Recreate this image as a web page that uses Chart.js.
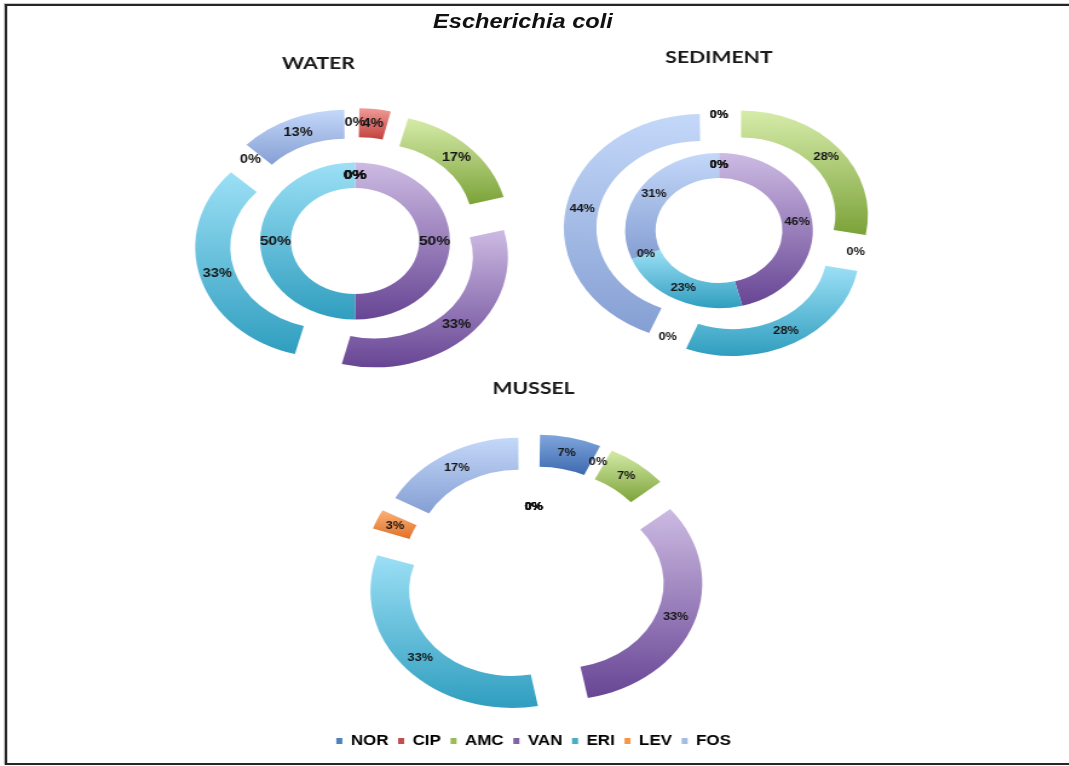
<!DOCTYPE html>
<html>
<head>
<meta charset="utf-8">
<title>Escherichia coli</title>
<script src="https://cdn.jsdelivr.net/npm/chart.js@4.4.1/dist/chart.umd.min.js"></script>
<style>
  html, body { margin: 0; padding: 0; background: #fff; overflow: hidden; }
  /* the whole figure is laid out narrow and stretched sideways */
  #page { position: absolute; left: 0; top: 0; width: 884px; height: 766px; transform: scaleX(1.21); transform-origin: 0 0; }
  #frame { position: absolute; left: 4.1px; top: 3.7px; width: 900px; height: 757.2px; border: 2.2px solid #262626; border-right: none; box-shadow: -1px -1px 0 #c8c8c8; }
  #mainTitle { position: absolute; left: 282.2px; top: 10.2px; width: 300px; line-height: 24px; text-align: center;
               font: italic bold 19.5px "Liberation Sans", Arial, sans-serif; color: #111; }
  .box { position: absolute; }
</style>
</head>
<body>
<div id="page">
  <div id="frame"></div>
  <div id="mainTitle">Escherichia coli</div>
  <div class="box" style="left:130px; top:40px; width:330px; height:345px;"><canvas id="water"></canvas></div>
  <div class="box" style="left:440px; top:30px; width:308.4px; height:355px;"><canvas id="sediment"></canvas></div>
  <div class="box" style="left:240px; top:365px; width:402px; height:393px;"><canvas id="mussel"></canvas></div>
</div>
<script>
const ANTIBIOTICS = ['NOR', 'CIP', 'AMC', 'VAN', 'ERI', 'LEV', 'FOS'];

// % of isolates per antibiotic: outer ring is exploded, inner ring sits inside it
const waterOuter = [0, 4, 17, 33, 33, 0, 13];
const waterInner = [0, 0, 0, 50, 50, 0, 0];
const sedimentOuter = [0, 0, 28, 0, 28, 0, 44];
const sedimentInner = [0, 0, 0, 46, 23, 0, 31];
const musselOuter = [7, 0, 7, 33, 33, 3, 17];
const musselInner = [0, 0, 0, 0, 0, 0, 0];

const LEGEND_COLORS = ['#4F81BD', '#C0504D', '#9BBB59', '#8064A2', '#4BACC6', '#F79646', '#A3BCE6'];
const TOP_COLORS    = ['#80A6DD', '#F09C99', '#D6ECAA', '#CDBBE3', '#9CE0F6', '#FBB57E', '#C4D8F9'];
const BOTTOM_COLORS = ['#3C69AD', '#C0403C', '#7BA238', '#674594', '#309EBF', '#E06E24', '#859FD3'];

Chart.defaults.font.family = 'Lato';

function arcSpan(data, i) {
  const total = data.reduce((s, v) => s + v, 0);
  if (!total) return { start: -Math.PI / 2, size: 0 };
  const before = data.slice(0, i).reduce((s, v) => s + v, 0);
  return { start: -Math.PI / 2 + 2 * Math.PI * before / total, size: 2 * Math.PI * data[i] / total };
}

// Chart.js moves an arc out by offset/4 and also grows its radius by offset/4 * fix,
// so pick the offset that pushes every slice out by the same distance
function explodeOffset(ctx) {
  const shift = ctx.dataset.explode || 0;
  if (!shift) return 0;
  const { size } = arcSpan(ctx.dataset.data, ctx.dataIndex);
  const fix = 1 - Math.sin(Math.min(Math.PI, size));
  return 4 * shift / (1 + fix);
}

// light-to-dark vertical gradient over each slice
function arcFill(ctx) {
  const i = ctx.dataIndex;
  const chart = ctx.chart;
  const area = chart.chartArea;
  const ctrl = chart.getDatasetMeta(ctx.datasetIndex).controller;
  if (!area || !ctrl || !ctrl.outerRadius) return LEGEND_COLORS[i];
  const { start, size } = arcSpan(ctx.dataset.data, i);
  const grow = (explodeOffset(ctx) / 4) * (1 - Math.sin(Math.min(Math.PI, size)));
  const cy = (area.top + area.bottom) / 2;
  let top = Infinity, bottom = -Infinity;
  for (let k = 0; k <= 24; k++) {
    const a = start + size * k / 24;
    for (const r of [ctrl.innerRadius + grow, ctrl.outerRadius + grow]) {
      const y = cy + Math.sin(a) * r;
      top = Math.min(top, y);
      bottom = Math.max(bottom, y);
    }
  }
  if (!(bottom > top)) return LEGEND_COLORS[i];
  const g = chart.ctx.createLinearGradient(0, top, 0, bottom);
  g.addColorStop(0, TOP_COLORS[i]);
  g.addColorStop(1, BOTTOM_COLORS[i]);
  return g;
}

// percentage written in the middle of each slice (zero slices too)
const percentLabels = {
  id: 'percentLabels',
  afterDatasetsDraw(chart) {
    const c = chart.ctx;
    c.save();
    c.textAlign = 'center';
    c.textBaseline = 'middle';
    c.fillStyle = '#151515';
    chart.data.datasets.forEach((ds, di) => {
      c.font = 'bold ' + ds.labelSize + 'px "Liberation Sans", Arial, sans-serif';
      chart.getDatasetMeta(di).data.forEach((arc, i) => {
        const p = arc.getProps(['x', 'y', 'startAngle', 'endAngle', 'innerRadius', 'outerRadius']);
        const mid = (p.startAngle + p.endAngle) / 2;
        const r = (p.innerRadius + p.outerRadius) / 2 + (ds.explode || 0);
        c.fillText(ds.data[i] + '%', p.x + Math.cos(mid) * r, p.y + Math.sin(mid) * r);
      });
    });
    c.restore();
  }
};

function makeChart(id, cfg) {
  return new Chart(document.getElementById(id), {
    type: 'doughnut',
    data: {
      labels: ANTIBIOTICS,
      datasets: [
        { data: cfg.outer, explode: cfg.explode, weight: cfg.outerWeight, labelSize: cfg.outerLabel,
          backgroundColor: arcFill, offset: explodeOffset, borderWidth: 0, clip: false },
        { data: cfg.inner, explode: 0, weight: cfg.innerWeight, labelSize: cfg.innerLabel,
          backgroundColor: arcFill, offset: 0, borderWidth: 0, clip: false }
      ]
    },
    options: {
      responsive: true,
      maintainAspectRatio: false,
      animation: false,
      events: [],
      radius: cfg.radius,
      cutout: cfg.cutout,
      layout: { padding: cfg.padding },
      plugins: {
        title: {
          display: true,
          text: cfg.title,
          align: cfg.titleAlign,
          color: '#1a1a1a',
          font: { family: 'Lato', size: 17.5, weight: 'bold' },
          padding: cfg.titlePadding
        },
        legend: cfg.legend || { display: false },
        tooltip: { enabled: false }
      }
    },
    plugins: [percentLabels]
  });
}

makeChart('water', {
  title: 'WATER', titleAlign: 'start', titlePadding: { top: 13.2, bottom: 22.8 },
  padding: { left: 103, right: 106.2 },
  outer: waterOuter, inner: waterInner,
  radius: 107.5, cutout: '49.3%', outerWeight: 29, innerWeight: 25.5, explode: 25.5,
  outerLabel: 12, innerLabel: 13
});

makeChart('sediment', {
  title: 'SEDIMENT', titleAlign: 'center', titlePadding: { top: 16.5, bottom: 8.5 },
  padding: 0,
  outer: sedimentOuter, inner: sedimentInner,
  radius: 104.5, cutout: '50.2%', outerWeight: 26.9, innerWeight: 25.1, explode: 24,
  outerLabel: 10.5, innerLabel: 10.5
});

makeChart('mussel', {
  title: 'MUSSEL', titleAlign: 'center', titlePadding: { top: 13.2, bottom: 25.2 },
  padding: 0,
  outer: musselOuter, inner: musselInner,
  radius: 114, cutout: '47.4%', outerWeight: 32, innerWeight: 28, explode: 26.8,
  outerLabel: 10.5, innerLabel: 10.5,
  legend: {
    display: true,
    position: 'bottom',
    align: 'center',
    labels: {
      boxWidth: 5,
      boxHeight: 6,
      padding: 8,
      color: '#1a1a1a',
      font: { family: '"Liberation Sans", Arial, sans-serif', size: 14, weight: 'bold' },
      generateLabels: () => ANTIBIOTICS.map((text, i) => ({
        text, fillStyle: LEGEND_COLORS[i], strokeStyle: LEGEND_COLORS[i], lineWidth: 0, hidden: false, index: i
      }))
    }
  }
});
</script>
</body>
</html>
